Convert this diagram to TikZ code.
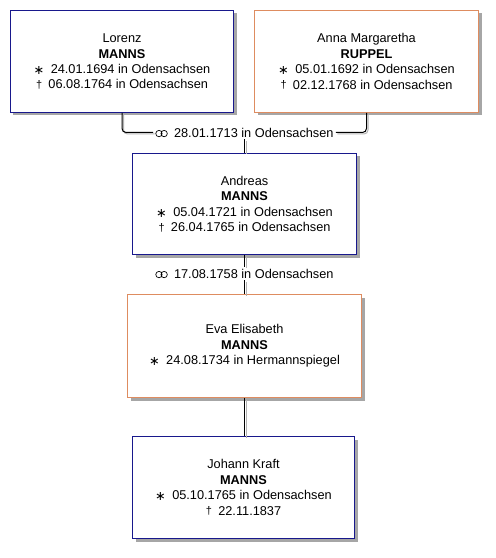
\documentclass[tikz,border=0pt]{standalone}
\usepackage{fontspec}
\setmainfont{Liberation Sans}
\newfontfamily\symfont{DejaVu Sans}
\usetikzlibrary{positioning,shadows}
\definecolor{manblue}{RGB}{24,24,140}
\definecolor{womanorange}{RGB}{222,140,96}
\newcommand{\bsym}{\raisebox{-0.15ex}{\symfont ∗}\enspace}
\newcommand{\dsym}{\raisebox{0.1ex}{\fontsize{11}{11}\selectfont †}\enspace}
\newcommand{\msym}{\tikz[x=1pt, y=1pt, baseline=-3.5pt, line width=0.7pt]{\draw (0,0) circle (3.2pt) (5.2,0) circle (3.2pt);}\enspace}

\tikzset{
  person/.style={line width=1bp, fill=white, minimum width=224bp, minimum height=102bp, align=center,
    font=\fontsize{12.8}{15.5}\selectfont,
    drop shadow={shadow xshift=3bp, shadow yshift=-3bp, fill=black!35, opacity=1}},
  male/.style={person, draw=manblue},
  female/.style={person, draw=womanorange},
  wedding/.style={inner sep=2bp, font=\fontsize{12.8}{15.5}\selectfont},
  link/.style={draw=black, line width=1bp, rounded corners=4bp},
  linkshadow/.style={link, draw=black!30, transform canvas={xshift=1.5bp, yshift=-1.5bp}}
}

\begin{document}
\begin{tikzpicture}[x=1bp, y=-1bp]
\useasboundingbox (0,0) rectangle (496,558);
\node[male, minimum width=223bp] (lorenz) at (122,61.5) {Lorenz\\\textbf{MANNS}\\\bsym 24.01.1694 in Odensachsen\\\dsym 06.08.1764 in Odensachsen};
\node[female, right=20bp of lorenz] (anna) {Anna Margaretha\\\textbf{RUPPEL}\\\bsym 05.01.1692 in Odensachsen\\\dsym 02.12.1768 in Odensachsen};
\node[wedding] (m1) at (244.5,132.5) {\msym 28.01.1713 in Odensachsen};
\node[male, minimum height=101bp] (andreas) at (244.5,204) {Andreas\\\textbf{MANNS}\\\bsym 05.04.1721 in Odensachsen\\\dsym 26.04.1765 in Odensachsen};
\node[wedding] (m2) at (244.5,273.5) {\msym 17.08.1758 in Odensachsen};
\node[female, minimum width=234bp, minimum height=103bp] (eva) at (244.5,346) {Eva Elisabeth\\\textbf{MANNS}\\\bsym 24.08.1734 in Hermannspiegel};
\node[male, minimum width=222bp] (johann) at (243.5,487.5) {Johann Kraft\\\textbf{MANNS}\\\bsym 05.10.1765 in Odensachsen\\\dsym 22.11.1837};
% connectors with their grey shade
\path[linkshadow] (lorenz.south) |- (m1.west);
\path[linkshadow] (anna.south) |- (m1.east);
\path[linkshadow] (m1.south) -- (andreas.north);
\path[linkshadow] (andreas.south) -- (m2.north);
\path[linkshadow] (m2.south) -- (eva.north);
\path[linkshadow] (eva.south) -- (eva.south |- johann.north);
\path[link] (lorenz.south) |- (m1.west);
\path[link] (anna.south) |- (m1.east);
\path[link] (m1.south) -- (andreas.north);
\path[link] (andreas.south) -- (m2.north);
\path[link] (m2.south) -- (eva.north);
\path[link] (eva.south) -- (eva.south |- johann.north);
\end{tikzpicture}
\end{document}
